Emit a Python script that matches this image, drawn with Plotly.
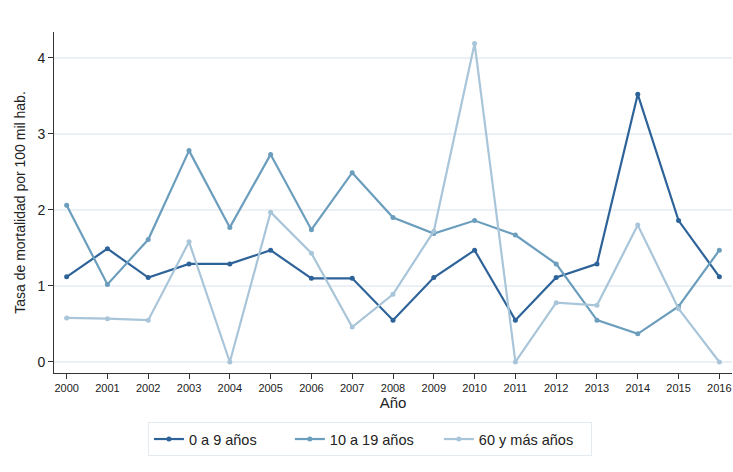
import plotly.graph_objects as go

years = list(range(2000, 2017))
s_0_9 = [1.12, 1.49, 1.11, 1.29, 1.29, 1.47, 1.10, 1.10, 0.55, 1.11, 1.47, 0.55, 1.11, 1.29, 3.52, 1.86, 1.12]
s_10_19 = [2.06, 1.02, 1.61, 2.78, 1.77, 2.73, 1.74, 2.49, 1.90, 1.69, 1.86, 1.67, 1.29, 0.55, 0.37, 0.73, 1.47]
s_60 = [0.58, 0.57, 0.55, 1.58, 0.00, 1.97, 1.43, 0.46, 0.89, 1.72, 4.19, 0.00, 0.78, 0.745, 1.80, 0.70, 0.00]
names = ["0 a 9 años", "10 a 19 años", "60 y más años"]
colors = ["#2e6399", "#6b9dbd", "#a9c5d9"]

pads = ["\u00a0" * 7, "\u00a0" * 5, "\u00a0" * 3]
fig = go.Figure()
for name, vals, c, p in zip(names, [s_0_9, s_10_19, s_60], colors, pads):
    fig.add_trace(go.Scatter(x=years, y=vals, name=name + p,
                             mode="lines+markers",
                             line=dict(color=c, width=2.2),
                             marker=dict(color=c, size=5)))

font = "Liberation Sans, Arial, sans-serif"
fig.update_layout(
    width=733, height=472,
    margin=dict(l=54, r=1, t=32, b=99, autoexpand=False),
    paper_bgcolor="white", plot_bgcolor="white",
    font=dict(family=font, color="#222222"),
    showlegend=True,
    legend=dict(orientation="h", x=0.466, xanchor="center", y=-0.144, yanchor="top",
                bordercolor="#e3eaf0", borderwidth=1, font=dict(size=14.5, color="#222"),
                itemwidth=30, traceorder="normal"),
    xaxis=dict(range=[1999.69, 2016.31], tickmode="array", tickvals=years,
               ticktext=[str(y) for y in years], tickfont=dict(size=11),
               ticklabeloverflow="allow",
               showline=True, linecolor="#333", linewidth=1, ticks="outside",
               ticklen=5, tickcolor="#333", showgrid=False, zeroline=False,
               automargin=False,
               title=dict(text="Año", font=dict(size=15), standoff=0)),
    yaxis=dict(range=[-0.145, 4.34], tickvals=[0, 1, 2, 3, 4], tickfont=dict(size=14),
               showline=True, linecolor="#333", linewidth=1, ticks="outside",
               ticklen=5, tickcolor="#333", showgrid=True, gridcolor="#eaf0f5",
               gridwidth=1.5, zeroline=False, automargin=False,
               title=dict(text="Tasa de mortalidad por 100 mil hab.", font=dict(size=14), standoff=8)),
)
fig.write_html("out.html", config={"displayModeBar": False},
               post_script="document.body.style.margin='0px';")
